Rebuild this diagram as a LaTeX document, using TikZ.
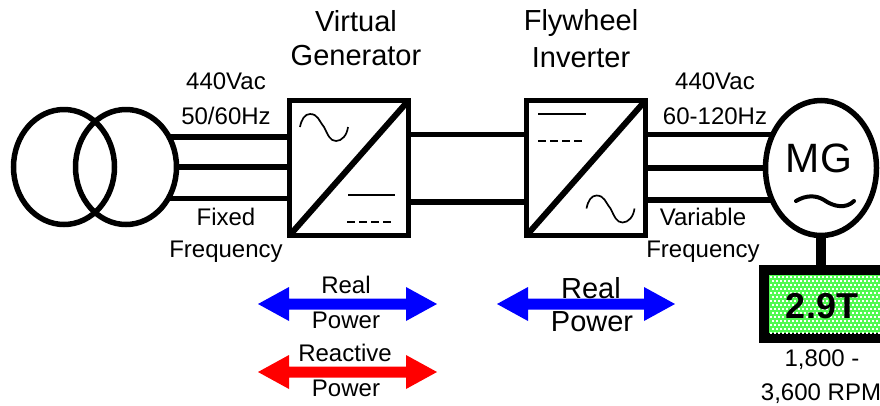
\documentclass[tikz,border=0pt]{standalone}
\usepackage{fontspec}
\setmainfont{Liberation Sans}
\usetikzlibrary{shapes.geometric}
\definecolor{dotgreen}{RGB}{80,250,80}
\newcommand{\fsz}[1]{\fontsize{#1}{#1}\selectfont}
\tikzset{
  wire/.style={line width=5.5pt},
  thick outline/.style={draw,line width=5.5pt,inner sep=0pt,outer sep=0pt},
  coil/.style={thick outline,ellipse,minimum width=101pt,minimum height=115pt},
  conv/.style={thick outline,rectangle,minimum width=119pt,minimum height=135pt},
  sym/.style={line width=1.7pt},
  dcdash/.style={line width=1.7pt,dash pattern=on 8pt off 4pt},
  lbl/.style={inner sep=0pt,font=\fsz{24}},
  bigl/.style={inner sep=0pt,font=\fsz{29}}
}
\newcommand{\dblarrow}[6]{% x1,x2,x3,x4,y,colour
  \fill[#6] (#1,#5) -- (#2,#5-17) -- (#2,#5-5.5) -- (#3,#5-5.5) -- (#3,#5-17)
    -- (#4,#5) -- (#3,#5+17) -- (#3,#5+5.5) -- (#2,#5+5.5) -- (#2,#5+17) -- cycle;}
\newcommand{\sinewave}[2]{% start x, start y (width 48, amplitude 14)
  \draw[sym] (#1,#2) .. controls (#1+1.5,#2-8) and (#1+5,#2-13) .. (#1+10,#2-13)
    .. controls (#1+18,#2-13) and (#1+19,#2-6) .. (#1+24,#2)
    .. controls (#1+28,#2+8) and (#1+30,#2+14) .. (#1+36,#2+14)
    .. controls (#1+42,#2+14) and (#1+47,#2+8) .. (#1+48,#2);}
\begin{document}
\begin{tikzpicture}[x=1pt,y=-1pt]
\useasboundingbox (0,0) rectangle (880,405);
\clip (0,0) rectangle (880,405);
% transformer
\node[coil] (tl) at (64,167) {};
\node[coil] (tr) at (126,167) {};
% converters
\node[conv] (va) at (349,168) {};
\node[conv] (fi) at (586,168) {};
\draw[line width=6pt] (va.south west) -- (va.north east);
\draw[line width=6pt] (fi.south west) -- (fi.north east);
% motor
\node[thick outline,ellipse,minimum width=111pt,minimum height=135pt] (mg) at (821,168) {};
\node[inner sep=0pt,font=\fsz{41}] (mgt) at (819,158) {MG};
% wires
\draw[wire] (tr.35.5) -- (tr.35.5 -| va.west);
\draw[wire] (tr.east) -- (va.west |- tr.east);
\draw[wire] (tr.-37.9) -- (tr.-37.9 -| va.west);
\coordinate (cu) at (va.east |- 0,134.5);
\coordinate (cd) at (va.east |- 0,202);
\draw[wire] (cu) -- (cu -| fi.west);
\draw[wire] (cd) -- (cd -| fi.west);
\draw[wire] (mg.145.1) -- (mg.145.1 -| fi.east);
\draw[wire] (mg.west) -- (mg.west -| fi.east);
\draw[wire] (mg.213.8) -- (mg.213.8 -| fi.east);
% symbols in converter 1
\sinewave{300}{127}
\draw[sym] (348,195) -- (395,195);
\draw[dcdash] (347,222) -- (392,222);
% symbols in converter 2
\draw[sym] (538,114) -- (586,114);
\draw[dcdash] (538,141) -- (583,141);
\sinewave{586.5}{208.5}
% machine tilde
\draw[line width=4pt,line cap=round] (796,201) .. controls (806,195) and (816,195) .. (824,200)
  .. controls (834,207) and (846,209) .. (854,201);
% flywheel mass
\node[draw,line width=10pt,inner sep=0pt,outer sep=0pt,minimum width=121pt,minimum height=68pt,
  fill=dotgreen] (fw) at (824.5,304) {};
\foreach \r in {0,...,14}{
  \pgfmathsetmacro{\off}{mod(\r,2)*2}
  \foreach \c in {0,...,28}{
    \fill[white] (769.5+\off+\c*4,275.5+\r*4) rectangle +(2,2);
  }
}
\node[inner sep=0pt,font=\bfseries\fsz{36}] (fwt) at (822,306) {2.9T};
\draw[line width=10pt] (mg.south) -- (fw.north -| mg.south);
% labels
\node[bigl] (v1) at (356,21) {Virtual};
\node[bigl] (v2) at (356,56) {Generator};
\node[bigl] (f1) at (581,23) {Flywheel};
\node[bigl] (f2) at (581,58) {Inverter};
\node[lbl] (a1) at (226,81) {440Vac};
\node[lbl] (a2) at (226,116) {50/60Hz};
\node[lbl] (a3) at (226,217) {Fixed};
\node[lbl] (a4) at (226,252) {Frequency};
\node[lbl] (b1) at (715,81) {440Vac};
\node[lbl] (b2) at (715,116) {60-120Hz};
\node[lbl] (b3) at (703,217) {Variable};
\node[lbl] (b4) at (703,252) {Frequency};
\node[lbl] (r1) at (822,360) {1,800 -};
\node[lbl] (r2) at (821,394) {3,600 RPM};
% power arrows
\dblarrow{258}{289}{406}{437}{304}{blue}
\dblarrow{258}{289}{406}{437}{372}{red}
\dblarrow{497}{528}{644}{675}{304}{blue}
\node[lbl] (p1) at (346,285) {Real};
\node[lbl] (p2) at (346,320) {Power};
\node[lbl] (p3) at (345,353) {Reactive};
\node[lbl] (p4) at (346,388) {Power};
\node[bigl] (p5) at (591,288) {Real};
\node[bigl] (p6) at (592,322) {Power};
\end{tikzpicture}
\end{document}
